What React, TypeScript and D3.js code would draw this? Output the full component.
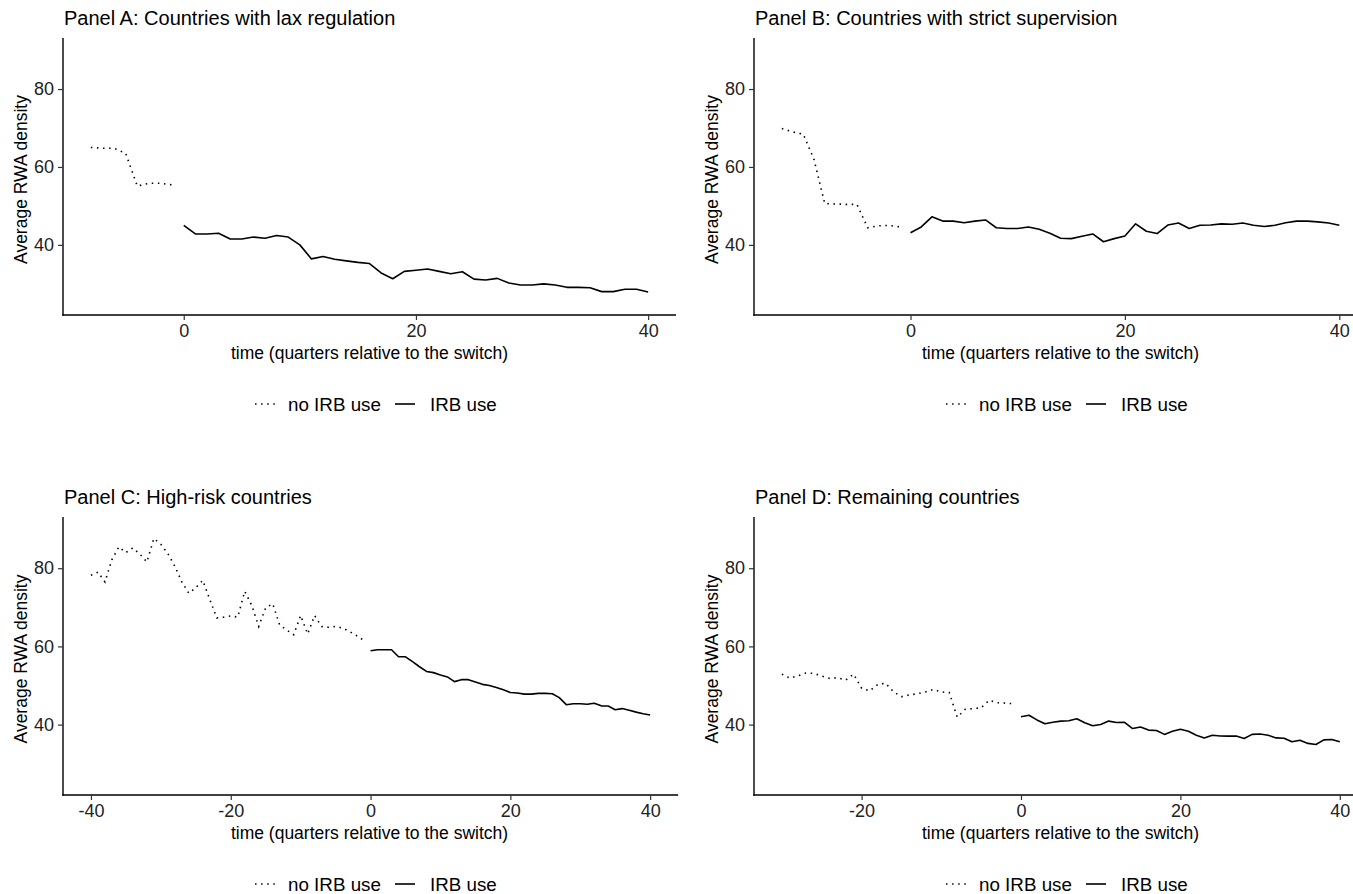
import React, { useEffect, useRef } from "react";
import * as d3 from "d3";

// first quarter of each "no IRB use" series (IRB use always starts at 0)
const laxStart = -8;
const strictStart = -12;
const highRiskStart = -40;
const remainingStart = -30;

const laxNoIrb = [65.0, 64.8, 64.8, 63.5, 55.1, 55.8, 55.8, 55.4];
const laxIrb = [
  45.0, 42.8, 42.8, 43.0, 41.5, 41.5, 42.0, 41.7, 42.4, 42.0, 40.0, 36.4, 37.0, 36.3,
  35.9, 35.5, 35.2, 32.8, 31.3, 33.2, 33.5, 33.8, 33.2, 32.6, 33.1, 31.2, 31.0, 31.4,
  30.2, 29.7, 29.7, 30.0, 29.7, 29.1, 29.1, 29.0, 28.0, 28.0, 28.6, 28.6, 27.9,
];

const strictNoIrb = [69.85, 69.0, 68.4, 61.9, 50.6, 50.5, 50.4, 50.4, 44.4, 44.9, 45.0, 44.6];
const strictIrb = [
  43.1, 44.6, 47.2, 46.1, 46.1, 45.7, 46.1, 46.4, 44.4, 44.2, 44.2, 44.6, 44.0, 43.0,
  41.7, 41.6, 42.2, 42.8, 40.8, 41.6, 42.3, 45.4, 43.5, 42.9, 45.1, 45.6, 44.2, 45.05,
  45.1, 45.4, 45.3, 45.6, 45.05, 44.7, 45.05, 45.7, 46.1, 46.1, 45.9, 45.6, 45.05,
];

const highRiskNoIrb = [
  78.2, 79.0, 76.5, 82.2, 85.45, 84.0, 85.2, 83.6, 81.6, 87.6, 86.1, 83.75, 80.5, 76.5,
  73.6, 75.0, 76.9, 72.0, 67.3, 67.5, 67.8, 67.5, 74.1, 70.5, 65.1, 69.9, 70.9, 65.5,
  64.2, 63.0, 67.9, 63.2, 67.9, 65.1, 64.9, 65.1, 64.7, 63.8, 62.75, 61.6,
];
const highRiskIrb = [
  58.9, 59.15, 59.15, 59.15, 57.35, 57.35, 56.1, 54.8, 53.6, 53.3, 52.7, 52.2, 51.0, 51.5,
  51.5, 50.9, 50.3, 50.0, 49.5, 48.9, 48.2, 48.1, 47.8, 47.8, 48.0, 48.0, 47.9, 46.9,
  45.1, 45.35, 45.35, 45.2, 45.45, 44.8, 44.75, 43.8, 44.1, 43.65, 43.2, 42.8, 42.45,
];

const remainingNoIrb = [
  52.9, 51.9, 52.5, 53.2, 53.1, 52.4, 51.8, 52.0, 51.4, 52.9, 49.3, 48.6, 50.2, 50.6,
  48.4, 47.15, 47.6, 47.9, 48.35, 49.0, 48.35, 48.2, 41.9, 43.9, 44.1, 44.3, 46.2, 45.6,
  45.5, 45.35,
];
const remainingIrb = [
  42.0, 42.4, 41.2, 40.2, 40.6, 40.9, 41.0, 41.5, 40.5, 39.7, 40.05, 40.9, 40.55, 40.6,
  39.0, 39.4, 38.6, 38.5, 37.5, 38.3, 38.8, 38.3, 37.3, 36.6, 37.3, 37.1, 37.05, 37.1,
  36.45, 37.5, 37.6, 37.3, 36.6, 36.5, 35.6, 36.0, 35.2, 34.9, 36.1, 36.2, 35.6,
];

const titles = [
  "Panel A: Countries with lax regulation",
  "Panel B: Countries with strict supervision",
  "Panel C: High-risk countries",
  "Panel D: Remaining countries",
];
const yTicks = [40, 60, 80];
const xTicksA = [0, 20, 40];
const xTicksB = [0, 20, 40];
const xTicksC = [-40, -20, 0, 20, 40];
const xTicksD = [-20, 0, 20, 40];
const legendLabels = ["no IRB use", "IRB use"];

const FONT = "'Liberation Sans', Arial, sans-serif";
const DOT = "1.5,4.6";

const toPoints = (vals, start) => vals.map((v, i) => ({ q: start + i, v }));

const panels = [
  { title: titles[0], left: 63, top: 38, bottom: 315, xDomain: [-10.4, 42.4], ppu: 11.61,
    ticks: xTicksA, noIrb: toPoints(laxNoIrb, laxStart), irb: toPoints(laxIrb, 0) },
  { title: titles[1], left: 754, top: 38, bottom: 315, xDomain: [-14.6, 42.6], ppu: 10.72,
    ticks: xTicksB, noIrb: toPoints(strictNoIrb, strictStart), irb: toPoints(strictIrb, 0) },
  { title: titles[2], left: 63, top: 517, bottom: 795, xDomain: [-44, 44], ppu: 6.99,
    ticks: xTicksC, noIrb: toPoints(highRiskNoIrb, highRiskStart), irb: toPoints(highRiskIrb, 0) },
  { title: titles[3], left: 754, top: 517, bottom: 795, xDomain: [-33.5, 43.5], ppu: 7.97,
    ticks: xTicksD, noIrb: toPoints(remainingNoIrb, remainingStart), irb: toPoints(remainingIrb, 0) },
];

const App = () => {
  const ref = useRef(null);

  useEffect(() => {
    const svg = d3.select(ref.current);
    svg.selectAll("*").remove();

    panels.forEach((p) => {
      const right = p.left + (p.xDomain[1] - p.xDomain[0]) * p.ppu;
      const x = d3.scaleLinear().domain(p.xDomain).range([p.left, right]);
      const y = d3.scaleLinear().domain([22, 93.1]).range([p.bottom, p.top]);
      const g = svg.append("g");

      // title
      g.append("text")
        .attr("x", p.left + 1)
        .attr("y", p.top - 13)
        .attr("font-size", 20)
        .attr("fill", "#000")
        .text(p.title);

      // axes (R style hyphen for negatives)
      const xAxis = g.append("g")
        .attr("transform", `translate(0,${p.bottom})`)
        .call(d3.axisBottom(x).tickValues(p.ticks).tickFormat((d) => String(d))
          .tickSize(5).tickPadding(4).tickSizeOuter(0));
      const yAxis = g.append("g")
        .attr("transform", `translate(${p.left},0)`)
        .call(d3.axisLeft(y).tickValues(yTicks).tickFormat((d) => String(d))
          .tickSize(5).tickPadding(4).tickSizeOuter(0));
      [xAxis, yAxis].forEach((a) => {
        a.attr("font-family", FONT).attr("font-size", 18);
        a.select(".domain").attr("stroke", "#000").attr("stroke-width", 1.4);
        a.selectAll(".tick line").attr("stroke", "#333").attr("stroke-width", 1.2);
        a.selectAll(".tick text").attr("fill", "#222");
      });
      // let both axis lines meet in the corner
      yAxis.select(".domain").attr("d", `M0,${p.bottom + 0.7}V${p.top}`);
      xAxis.select(".domain").attr("d", `M${p.left - 0.7},0H${right}`);

      // axis titles
      const cx = p.left + (676 - 63) / 2;
      g.append("text")
        .attr("x", cx)
        .attr("y", p.bottom + 44)
        .attr("text-anchor", "middle")
        .attr("font-size", 17.5)
        .text("time (quarters relative to the switch)");
      g.append("text")
        .attr("transform", `translate(${p.left - 36},${(p.top + p.bottom) / 2 + 3}) rotate(-90)`)
        .attr("text-anchor", "middle")
        .attr("font-size", 17.5)
        .text("Average RWA density");

      // lines
      const line = d3.line().x((d) => x(d.q)).y((d) => y(d.v));
      g.append("path")
        .datum(p.noIrb)
        .attr("fill", "none")
        .attr("stroke", "#000")
        .attr("stroke-width", 1.6)
        .attr("stroke-dasharray", DOT)
        .attr("d", line);
      g.append("path")
        .datum(p.irb)
        .attr("fill", "none")
        .attr("stroke", "#000")
        .attr("stroke-width", 1.6)
        .attr("stroke-linejoin", "round")
        .attr("d", line);

      // legend
      const ly = p.bottom + 89;
      const lg = g.append("g").attr("transform", `translate(${p.left},${ly})`);
      lg.append("line").attr("x1", 192).attr("x2", 212).attr("y1", 0).attr("y2", 0)
        .attr("stroke", "#000").attr("stroke-width", 1.6).attr("stroke-dasharray", DOT);
      lg.append("text").attr("x", 225).attr("y", 6.5).attr("font-size", 18.8).text(legendLabels[0]);
      lg.append("line").attr("x1", 332).attr("x2", 352).attr("y1", 0).attr("y2", 0)
        .attr("stroke", "#000").attr("stroke-width", 1.6);
      lg.append("text").attr("x", 367).attr("y", 6.5).attr("font-size", 18.8).text(legendLabels[1]);
    });
  }, []);

  return (
    <svg
      ref={ref}
      width={1353}
      height={894}
      fontFamily={FONT}
      style={{ position: "absolute", left: 0, top: 0, background: "#fff" }}
    />
  );
};

export default App;
